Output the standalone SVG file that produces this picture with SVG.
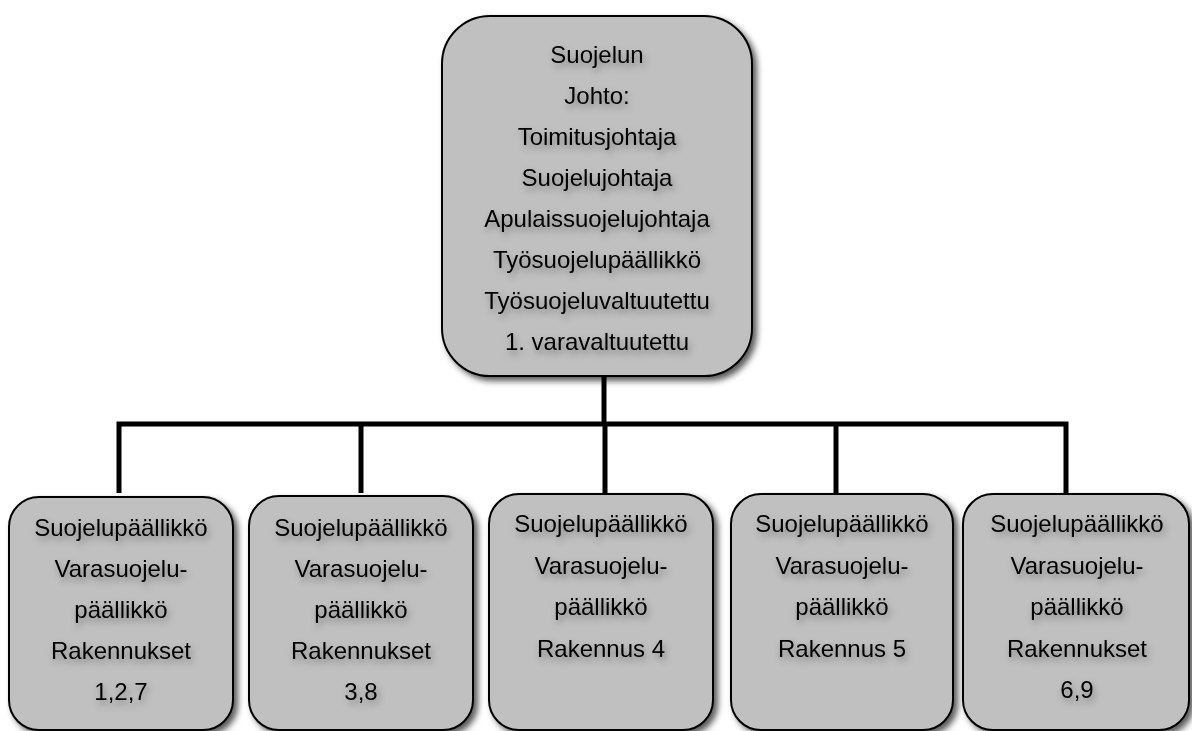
<svg xmlns="http://www.w3.org/2000/svg" width="1192" height="731" viewBox="0 0 1192 731">
  <defs>
    <filter id="boxShadow" x="-10%" y="-10%" width="125%" height="125%">
      <feGaussianBlur in="SourceAlpha" stdDeviation="3"/>
      <feOffset dx="4" dy="4" result="b"/>
      <feFlood flood-color="#000" flood-opacity="0.65"/>
      <feComposite in2="b" operator="in" result="s"/>
      <feMerge><feMergeNode in="s"/><feMergeNode in="SourceGraphic"/></feMerge>
    </filter>
    <filter id="textShadow" x="-20%" y="-60%" width="140%" height="220%">
      <feGaussianBlur in="SourceAlpha" stdDeviation="3.5"/>
      <feOffset dx="2" dy="4" result="b"/>
      <feFlood flood-color="#000" flood-opacity="0.35"/>
      <feComposite in2="b" operator="in" result="s"/>
      <feMerge><feMergeNode in="s"/><feMergeNode in="SourceGraphic"/></feMerge>
    </filter>
  </defs>
  <style>
    .box { fill: #c0c0c0; stroke: #000; stroke-width: 2; filter: url(#boxShadow); }
    .t { font-family: "Liberation Sans", Arial, sans-serif; font-size: 24px; fill: #000; text-anchor: middle; filter: url(#textShadow); }
    .conn { fill: none; stroke: #000; stroke-width: 5; stroke-linejoin: miter; stroke-linecap: butt; }
  </style>
  <rect width="1192" height="731" fill="#fff"/>

  <g id="connectors">
    <line class="conn" x1="604" y1="376" x2="604" y2="424"/>
    <polyline class="conn" points="119,493 119,424 1066,424 1066,493"/>
    <line class="conn" x1="361" y1="424" x2="361" y2="493"/>
    <line class="conn" x1="605" y1="424" x2="605" y2="493"/>
    <line class="conn" x1="836" y1="424" x2="836" y2="493"/>
  </g>

  <g id="top">
    <rect class="box" x="442" y="16" width="310" height="360" rx="48" ry="48"/>
    <text class="t" x="597" y="63">Suojelun</text>
    <text class="t" x="597" y="104">Johto:</text>
    <text class="t" x="597" y="145">Toimitusjohtaja</text>
    <text class="t" x="597" y="186">Suojelujohtaja</text>
    <text class="t" x="597" y="227">Apulaissuojelujohtaja</text>
    <text class="t" x="597" y="268">Työsuojelupäällikkö</text>
    <text class="t" x="597" y="309">Työsuojeluvaltuutettu</text>
    <text class="t" x="597" y="350">1. varavaltuutettu</text>
  </g>

  <g id="b1">
    <rect class="box" x="9" y="497" width="224" height="233" rx="30" ry="30"/>
    <text class="t" x="121" y="536">Suojelupäällikkö</text>
    <text class="t" x="121" y="577">Varasuojelu-</text>
    <text class="t" x="121" y="618">päällikkö</text>
    <text class="t" x="121" y="659">Rakennukset</text>
    <text class="t" x="121" y="700">1,2,7</text>
  </g>

  <g id="b2">
    <rect class="box" x="249" y="496" width="224" height="234" rx="30" ry="30"/>
    <text class="t" x="361" y="536">Suojelupäällikkö</text>
    <text class="t" x="361" y="577">Varasuojelu-</text>
    <text class="t" x="361" y="618">päällikkö</text>
    <text class="t" x="361" y="659">Rakennukset</text>
    <text class="t" x="361" y="700">3,8</text>
  </g>

  <g id="b3">
    <rect class="box" x="489" y="494" width="224" height="236" rx="30" ry="30"/>
    <text class="t" x="601" y="532">Suojelupäällikkö</text>
    <text class="t" x="601" y="574">Varasuojelu-</text>
    <text class="t" x="601" y="615">päällikkö</text>
    <text class="t" x="601" y="657">Rakennus 4</text>
  </g>

  <g id="b4">
    <rect class="box" x="731" y="494" width="222" height="236" rx="30" ry="30"/>
    <text class="t" x="842" y="532">Suojelupäällikkö</text>
    <text class="t" x="842" y="574">Varasuojelu-</text>
    <text class="t" x="842" y="615">päällikkö</text>
    <text class="t" x="842" y="657">Rakennus 5</text>
  </g>

  <g id="b5">
    <rect class="box" x="963" y="494" width="226" height="236" rx="30" ry="30"/>
    <text class="t" x="1077" y="532">Suojelupäällikkö</text>
    <text class="t" x="1077" y="574">Varasuojelu-</text>
    <text class="t" x="1077" y="615">päällikkö</text>
    <text class="t" x="1077" y="657">Rakennukset</text>
    <text class="t" x="1077" y="698">6,9</text>
  </g>
</svg>
